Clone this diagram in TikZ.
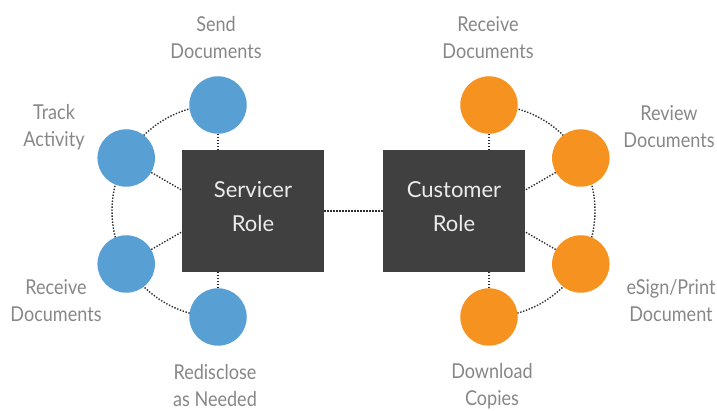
\documentclass[tikz,border=0pt]{standalone}
\usepackage{fontspec}
\usetikzlibrary{calc}
\setmainfont{Lato}[FakeStretch=0.88]
\newfontfamily\boxfont{Lato}
\definecolor{cblue}{RGB}{88,160,211}
\definecolor{corange}{RGB}{246,146,32}
\definecolor{cbox}{RGB}{64,64,64}
\definecolor{ctext}{RGB}{135,135,135}
\definecolor{cdot}{RGB}{45,45,45}
\pgfdeclarelayer{bg}
\pgfsetlayers{bg,main}
\tikzset{
  bub/.style={circle,minimum size=57.5pt,inner sep=0pt},
  bluebub/.style={bub,fill=cblue},
  orbub/.style={bub,fill=corange},
  rolebox/.style={fill=cbox,minimum width=142pt,minimum height=122pt,inner sep=0pt},
  roletext/.style={text=white!92!black,align=center,inner sep=0pt,
     font=\boxfont\fontsize{22}{34}\selectfont},
  lab/.style={text=ctext,align=center,font=\fontsize{20.5}{27}\selectfont,inner sep=0pt},
  dotline/.style={draw=cdot,line width=1.4pt,dash pattern=on 1.4pt off 1.6pt}
}
\begin{document}
\begin{tikzpicture}[x=1pt,y=1pt]
\useasboundingbox (0,0) rectangle (717,411);
% arc centres
\coordinate (sc) at (218,200);
\coordinate (cc) at (489,200);
% blue bubbles
\node[bluebub] (s1) at ($(sc)+(90:106)$) {};
\node[bluebub] (s2) at ($(sc)+(150:106)$) {};
\node[bluebub] (s3) at ($(sc)+(210:106)$) {};
\node[bluebub] (s4) at ($(sc)+(270:106)$) {};
% orange bubbles
\node[orbub] (c1) at ($(cc)+(90:106)$) {};
\node[orbub] (c2) at ($(cc)+(30:106)$) {};
\node[orbub] (c3) at ($(cc)+(-30:106)$) {};
\node[orbub] (c4) at ($(cc)+(-90:106)$) {};
% boxes
\node[rolebox] (sbox) at (253,200) {};
\node[rolebox] (cbox) at (454,200) {};
\node[roletext] (stxt) at (253,204) {Servicer\\Role};
\node[roletext] (ctxt) at (454,204) {Customer\\Role};
% labels
\node[lab] (ls1) at (216,373) {Send\\Documents};
\node[lab] (ls2) at (54,284) {Track\\Activity};
\node[lab] (ls3) at (56,110) {Receive\\Documents};
\node[lab] (ls4) at (215,25) {Redisclose\\as Needed};
\node[lab] (lc1) at (488,373) {Receive\\Documents};
\node[lab] (lc2) at (669,284) {Review\\Documents};
\node[lab] (lc3) at (671,110) {eSign/Print\\Document};
\node[lab] (lc4) at (492,25) {Download\\Copies};
% connectors
\begin{pgfonlayer}{bg}
\draw[dotline] (s1.center) arc[start angle=90,end angle=270,radius=106];
\draw[dotline] (c1.center) arc[start angle=90,end angle=-90,radius=106];
\foreach \n in {s1,s2,s3,s4} \draw[dotline] (\n) -- (sc);
\foreach \n in {c1,c2,c3,c4} \draw[dotline] (\n) -- (cc);
\draw[dotline] (sbox.east) -- (cbox.west);
\end{pgfonlayer}
\end{tikzpicture}
\end{document}
